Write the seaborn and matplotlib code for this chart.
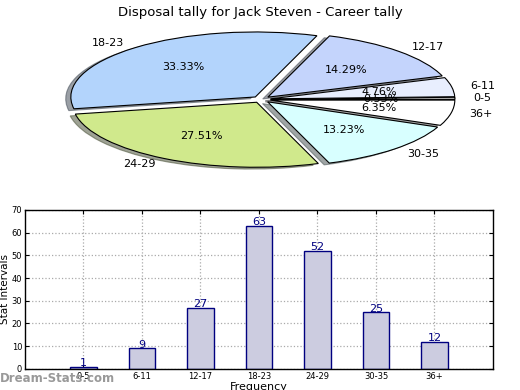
import matplotlib
matplotlib.use("Agg")
import matplotlib.pyplot as plt
import pandas as pd
import seaborn as sns

categories = ["0-5", "6-11", "12-17", "18-23", "24-29", "30-35", "36+"]
counts = [1, 9, 27, 63, 52, 25, 12]
slice_colors = ["#c8c8c8", "#e8eefe", "#c4d4fc", "#b3d4fc", "#d0e98c", "#d8ffff", "#ffffff"]

TITLE = "Disposal tally for Jack Steven - Career tally"


def main():
    sns.set_style("ticks")
    plt.rcParams["font.family"] = ["DejaVu Sans"]
    plt.rcParams.update({
        "text.color": "black",
        "axes.labelcolor": "black",
        "xtick.color": "black",
        "ytick.color": "black",
    })

    fig = plt.figure(figsize=(5.2, 3.9), dpi=100)

    # pie, squashed into a wide ellipse
    ax_pie = fig.add_axes([0.13, 0.57, 0.745, 0.35])
    ax_pie.pie(
        counts,
        labels=categories,
        colors=slice_colors,
        explode=[0.05] * len(counts),
        autopct="%1.2f%%",
        startangle=0,
        shadow=True,
        wedgeprops={"edgecolor": "black", "linewidth": 0.8},
        textprops={"fontsize": 8, "color": "black"},
    )
    ax_pie.set_aspect("auto")
    ax_pie.set_xlim(-1.05, 1.05)
    ax_pie.set_ylim(-1.05, 1.05)
    ax_pie.axis("off")

    fig.suptitle(TITLE, fontsize=9.5, y=0.985)

    # bar chart
    df = pd.DataFrame({"interval": categories, "count": counts})
    ax = fig.add_axes([0.048, 0.054, 0.9, 0.408])
    sns.barplot(
        data=df,
        x="interval",
        y="count",
        order=categories,
        color="#cccce0",
        saturation=1,
        edgecolor="navy",
        linewidth=1,
        width=0.45,
        ax=ax,
    )
    for cont in ax.containers:
        ax.bar_label(cont, color="navy", fontsize=8, padding=-1)

    ax.set_xlim(-1, 7)
    ax.set_ylim(0, 70)
    ax.set_yticks(range(0, 71, 10))
    ax.grid(True, linestyle=":", color="#aaaaaa", linewidth=0.9)
    ax.set_axisbelow(True)
    ax.tick_params(direction="in", top=True, right=True, labelsize=6, length=3, pad=2)
    for s in ax.spines.values():
        s.set_linewidth(1)
        s.set_color("black")
    ax.set_ylabel("Stat Intervals", fontsize=7.5)
    ax.yaxis.set_label_coords(-0.031, 0.5)
    ax.set_xlabel("Frequency", fontsize=8, labelpad=1)

    fig.text(0.0, 0.012, "Dream-Stats.com", fontsize=8.5, color="#999999",
             fontweight="bold", ha="left", va="bottom")

    fig.savefig("out.png", dpi=100)


if __name__ == "__main__":
    main()
